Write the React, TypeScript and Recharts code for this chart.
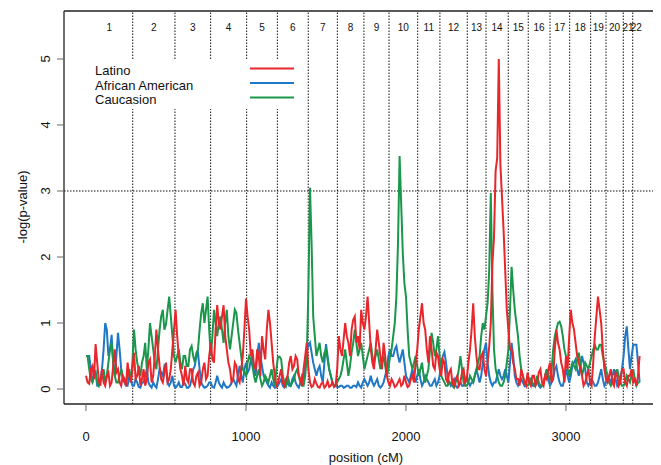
import React from 'react';
import { LineChart, Line, XAxis, YAxis, ReferenceLine, ReferenceArea, Legend } from 'recharts';

const STEP = 10; // cM between successive scan points

const latino = [
  0.2, 0.1, 0.08, 0.3, 0.35, 0.15, 0.68, 0.4, 0.12, 0.05, 0.3, 0.1, 0.05, 0.2, 0.25, 0.05, 0.1, 0.35, 0.6, 0.25,
  0.3, 0.1, 0.05, 0.2, 0.15, 0.05, 0.4, 0.2, 0.1, 0.3, 0.55, 0.15, 0.2, 0.35, 0.05, 0.15, 0.3, 0.05, 0.15, 0.4,
  0.45, 0.1, 0.2, 0.5, 0.9, 0.6, 0.35, 0.15, 0.1, 0.25, 0.4, 0.1, 0.15, 0.3, 0.6, 0.9, 1.2, 0.8, 0.5, 0.3,
  0.2, 0.05, 0.35, 0.15, 0.1, 0.3, 0.3, 0.1, 0.05, 0.2, 0.25, 0.05, 0.1, 0.3, 0.4, 0.15, 0.2, 0.5, 0.7, 0.45,
  0.4, 0.9, 1.27, 1.0, 0.9, 1.1, 1.27, 0.8, 0.6, 0.4, 0.3, 0.1, 0.15, 0.4, 0.35, 0.15, 0.1, 0.3, 0.5, 0.9,
  1.37, 1.1, 0.9, 0.5, 0.6, 0.35, 0.3, 0.6, 0.5, 0.2, 0.8, 0.6, 0.45, 0.9, 1.2, 1.0, 0.7, 0.4, 0.2, 0.05,
  0.1, 0.2, 0.3, 0.1, 0.05, 0.15, 0.2, 0.4, 0.5, 0.3, 0.35, 0.5, 0.45, 0.2, 0.15, 0.05, 0.3, 0.5, 0.7, 0.3,
  0.1, 0.03, 0.05, 0.15, 0.08, 0.03, 0.02, 0.08, 0.1, 0.02, 0.05, 0.12, 0.03, 0.05, 0.1, 0.03, 0.05, 0.3, 0.8, 0.6,
  0.5, 0.75, 1.0, 0.8, 0.7, 0.5, 0.9, 1.05, 1.1, 0.7, 0.8, 0.6, 1.2, 1.0, 0.9, 1.1, 1.4, 1.0, 0.6, 0.4,
  0.3, 0.6, 0.9, 0.7, 0.5, 0.3, 0.7, 0.5, 0.2, 0.1, 0.05, 0.15, 0.1, 0.03, 0.05, 0.1, 0.15, 0.05, 0.08, 0.2,
  0.1, 0.03, 0.05, 0.15, 0.2, 0.1, 0.4, 0.6, 0.9, 1.1, 1.3, 1.0, 0.9, 0.6, 0.4, 0.8, 0.6, 0.35, 0.3, 0.55,
  0.5, 0.3, 0.2, 0.45, 0.4, 0.15, 0.1, 0.25, 0.3, 0.1, 0.05, 0.15, 0.2, 0.05, 0.1, 0.25, 0.3, 0.1, 0.15, 0.4,
  0.6, 0.9, 1.3, 0.8, 0.5, 0.3, 0.3, 0.5, 0.55, 0.3, 0.2, 0.4, 0.64, 1.0, 1.9, 2.3, 3.3, 3.5, 5.0, 3.4,
  2.9, 2.4, 1.8, 1.2, 0.9, 0.6, 0.6, 0.4, 0.3, 0.15, 0.15, 0.05, 0.3, 0.2, 0.1, 0.05, 0.25, 0.1, 0.05, 0.2,
  0.2, 0.05, 0.1, 0.25, 0.3, 0.1, 0.05, 0.2, 0.15, 0.3, 0.4, 0.1, 0.2, 0.6, 0.9, 0.7, 0.6, 0.4, 0.3, 0.1,
  0.5, 0.3, 0.8, 1.2, 1.0, 0.9, 0.7, 0.5, 0.4, 0.3, 0.2, 0.05, 0.1, 0.2, 0.3, 0.1, 0.05, 0.4, 0.8, 1.1,
  1.4, 1.2, 1.0, 0.6, 0.3, 0.15, 0.1, 0.2, 0.3, 0.1, 0.05, 0.25, 0.2, 0.05, 0.1, 0.3, 0.3, 0.1, 0.05, 0.2,
  0.2, 0.3, 0.1, 0.15, 0.05, 0.2, 0.5,
];

const africanAmerican = [
  0.5, 0.5, 0.5, 0.3, 0.1, 0.2, 0.25, 0.05, 0.05, 0.15, 0.3, 0.6, 1.0, 0.9, 0.5, 0.6, 0.82, 0.4, 0.2, 0.5,
  0.85, 0.6, 0.3, 0.15, 0.1, 0.05, 0.05, 0.2, 0.15, 0.05, 0.05, 0.15, 0.1, 0.03, 0.02, 0.1, 0.1, 0.2, 0.3, 0.1,
  0.05, 0.02, 0.1, 0.05, 0.02, 0.15, 0.3, 0.25, 0.2, 0.35, 0.3, 0.1, 0.05, 0.1, 0.2, 0.05, 0.02, 0.05, 0.1, 0.03,
  0.03, 0.1, 0.08, 0.02, 0.02, 0.05, 0.15, 0.3, 0.35, 0.5, 0.55, 0.3, 0.1, 0.05, 0.02, 0.03, 0.05, 0.1, 0.1, 0.03,
  0.02, 0.1, 0.2, 0.1, 0.05, 0.02, 0.1, 0.05, 0.02, 0.03, 0.05, 0.1, 0.15, 0.1, 0.05, 0.2, 0.35, 0.2, 0.1, 0.3,
  0.4, 0.25, 0.3, 0.45, 0.5, 0.3, 0.2, 0.5, 0.7, 0.5, 0.35, 0.2, 0.15, 0.1, 0.05, 0.02, 0.1, 0.05, 0.02, 0.03,
  0.05, 0.1, 0.15, 0.05, 0.02, 0.05, 0.1, 0.05, 0.05, 0.15, 0.2, 0.1, 0.05, 0.02, 0.1, 0.2, 0.15, 0.4, 0.6, 0.65,
  0.7, 0.55, 0.4, 0.3, 0.2, 0.3, 0.35, 0.2, 0.1, 0.4, 0.68, 0.5, 0.3, 0.2, 0.1, 0.05, 0.05, 0.03, 0.03, 0.05,
  0.05, 0.02, 0.03, 0.05, 0.05, 0.02, 0.02, 0.05, 0.05, 0.03, 0.1, 0.05, 0.02, 0.1, 0.15, 0.1, 0.05, 0.1, 0.2, 0.1,
  0.05, 0.1, 0.15, 0.05, 0.02, 0.05, 0.1, 0.2, 0.3, 0.5, 0.6, 0.5, 0.5, 0.6, 0.65, 0.5, 0.4, 0.5, 0.6, 0.4,
  0.2, 0.15, 0.1, 0.2, 0.3, 0.2, 0.1, 0.2, 0.3, 0.15, 0.05, 0.1, 0.2, 0.15, 0.1, 0.05, 0.05, 0.1, 0.15, 0.05,
  0.1, 0.2, 0.4, 0.5, 0.56, 0.4, 0.2, 0.1, 0.05, 0.1, 0.15, 0.05, 0.02, 0.05, 0.1, 0.05, 0.05, 0.1, 0.2, 0.1,
  0.05, 0.1, 0.1, 0.2, 0.3, 0.2, 0.1, 0.2, 0.4, 0.6, 0.7, 0.4, 0.2, 0.1, 0.05, 0.1, 0.1, 0.2, 0.3, 0.2,
  0.15, 0.2, 0.3, 0.2, 0.1, 0.4, 0.7, 0.5, 0.2, 0.1, 0.05, 0.1, 0.15, 0.1, 0.05, 0.1, 0.2, 0.15, 0.1, 0.05,
  0.05, 0.1, 0.15, 0.05, 0.02, 0.05, 0.1, 0.2, 0.3, 0.15, 0.05, 0.1, 0.15, 0.3, 0.35, 0.2, 0.1, 0.05, 0.05, 0.15,
  0.3, 0.2, 0.1, 0.2, 0.35, 0.4, 0.45, 0.3, 0.2, 0.35, 0.5, 0.4, 0.3, 0.1, 0.05, 0.1, 0.15, 0.1, 0.05, 0.05,
  0.1, 0.2, 0.3, 0.15, 0.05, 0.1, 0.2, 0.15, 0.1, 0.2, 0.3, 0.15, 0.05, 0.1, 0.15, 0.3, 0.5, 0.8, 0.95, 0.6,
  0.3, 0.5, 0.67, 0.67, 0.67, 0.4, 0.1,
];

const caucasion = [
  0.5, 0.5, 0.3, 0.15, 0.1, 0.2, 0.25, 0.1, 0.05, 0.15, 0.2, 0.3, 0.1, 0.2, 0.4, 0.6, 0.7, 0.4, 0.2, 0.1,
  0.1, 0.2, 0.3, 0.2, 0.15, 0.1, 0.2, 0.3, 0.1, 0.4, 0.9, 0.6, 0.4, 0.3, 0.2, 0.4, 0.5, 0.7, 0.3, 0.6,
  1.0, 0.8, 0.6, 0.4, 0.3, 0.6, 0.9, 1.1, 1.2, 0.9, 0.98, 1.2, 1.4, 1.1, 0.8, 0.5, 0.4, 0.5, 0.6, 0.4,
  0.3, 0.5, 0.5, 0.35, 0.35, 0.6, 0.65, 0.5, 0.4, 0.55, 0.6, 0.9, 1.15, 1.3, 1.0, 1.2, 1.4, 0.9, 0.5, 0.8,
  1.2, 1.0, 0.8, 1.0, 1.1, 0.9, 0.7, 1.0, 1.2, 0.8, 0.6, 0.8, 1.0, 1.2, 1.15, 0.9, 0.7, 0.5, 0.3, 0.25,
  0.2, 0.4, 0.5, 0.45, 0.35, 0.2, 0.1, 0.2, 0.3, 0.15, 0.05, 0.1, 0.2, 0.15, 0.1, 0.2, 0.3, 0.15, 0.05, 0.3,
  0.49, 0.49, 0.45, 0.2, 0.1, 0.05, 0.2, 0.1, 0.05, 0.1, 0.15, 0.25, 0.3, 0.2, 0.1, 0.05, 0.05, 0.2, 0.5, 1.5,
  3.05, 2.2, 1.1, 0.8, 0.5, 0.6, 0.7, 0.5, 0.4, 0.55, 0.6, 0.45, 0.3, 0.2, 0.1, 0.05, 0.05, 0.1, 0.15, 0.2,
  0.3, 0.45, 0.6, 0.4, 0.2, 0.35, 0.55, 0.7, 0.9, 0.7, 0.5, 0.6, 0.7, 0.5, 0.3, 0.4, 0.5, 0.6, 0.7, 0.5,
  0.4, 0.5, 0.6, 0.45, 0.3, 0.4, 0.5, 0.35, 0.2, 0.3, 0.5, 0.6, 0.8, 1.0, 1.4, 2.2, 3.53, 2.8, 2.06, 1.6,
  1.4, 0.9, 0.5, 0.4, 0.3, 0.4, 0.5, 0.35, 0.2, 0.3, 0.4, 0.2, 0.1, 0.2, 0.3, 0.6, 0.85, 0.7, 0.5, 0.6,
  0.8, 0.5, 0.2, 0.15, 0.1, 0.05, 0.05, 0.1, 0.1, 0.05, 0.02, 0.1, 0.15, 0.3, 0.5, 0.3, 0.1, 0.05, 0.05, 0.1,
  0.2, 0.15, 0.1, 0.2, 0.3, 0.4, 0.5, 0.8, 1.0, 0.9, 1.1, 1.3, 1.8, 2.97, 1.5, 0.6, 0.3, 0.2, 0.1, 0.05,
  0.05, 0.1, 0.2, 0.4, 0.6, 1.2, 1.85, 1.5, 1.2, 1.0, 0.8, 0.5, 0.3, 0.2, 0.1, 0.05, 0.05, 0.1, 0.15, 0.1,
  0.05, 0.1, 0.2, 0.1, 0.05, 0.05, 0.1, 0.2, 0.3, 0.2, 0.15, 0.3, 0.6, 0.8, 0.9, 1.0, 1.02, 0.95, 0.8, 0.6,
  0.5, 0.3, 0.2, 0.3, 0.4, 0.35, 0.3, 0.45, 0.55, 0.4, 0.2, 0.3, 0.4, 0.35, 0.3, 0.4, 0.5, 0.6, 0.67, 0.6,
  0.6, 0.67, 0.67, 0.5, 0.4, 0.3, 0.2, 0.1, 0.05, 0.1, 0.15, 0.2, 0.3, 0.2, 0.1, 0.05, 0.05, 0.1, 0.2, 0.15,
  0.1, 0.2, 0.3, 0.15, 0.05, 0.1, 0.1,
];

const chromBounds = [0, 292, 556, 779, 1004, 1196, 1389, 1571, 1737, 1894, 2073, 2212, 2383, 2500, 2639, 2764, 2900, 3023, 3154, 3250, 3358, 3417, 3462];
const chromLabels = ['1', '2', '3', '4', '5', '6', '7', '8', '9', '10', '11', '12', '13', '14', '15', '16', '17', '18', '19', '20', '21', '22'];
const xTicks = [0, 1000, 2000, 3000];
const yTicks = [0, 1, 2, 3, 4, 5];
const threshold = 3;

const seriesNames = ['Latino', 'African American', 'Caucasion'];
const seriesColors = ['#e8262b', '#1f78c6', '#1a974b'];

const data = latino.map((v, i) => ({
  pos: i * STEP,
  latino: v,
  aa: africanAmerican[i],
  cauc: caucasion[i],
}));

const FONT = '"Liberation Sans", Arial, Helvetica, sans-serif';

const XTick = (props: any) => {
  const { x, y, payload } = props;
  return (
    <text x={x} y={y + 28} textAnchor="middle" fontSize={13} fill="#111" fontFamily={FONT}>
      {payload.value}
    </text>
  );
};

const YTick = (props: any) => {
  const { x, y, payload } = props;
  const bx = x - 4.5;
  return (
    <text x={bx} y={y} textAnchor="middle" fontSize={13} fill="#111" fontFamily={FONT} transform={`rotate(-90 ${bx} ${y})`}>
      {payload.value}
    </text>
  );
};

const renderLegend = () => (
  <div style={{ background: '#fff', width: 214, height: 50 }}>
    <svg width={214} height={50}>
      {seriesNames.map((n, i) => (
        <g key={n}>
          <text x={9} y={16 + i * 14.5} fontSize={13} fill="#111" fontFamily={FONT}>{n}</text>
          <line x1={164} x2={208} y1={9.5 + i * 14.5} y2={9.5 + i * 14.5} stroke={seriesColors[i]} strokeWidth={2} />
        </g>
      ))}
    </svg>
  </div>
);

export default function App() {
  return (
    <div style={{ width: 653, height: 457, overflow: 'hidden', fontFamily: FONT }}>
      <LineChart width={660} height={457} data={data} margin={{ top: 3, right: 0, bottom: 0, left: 0 }}>
        <XAxis
          dataKey="pos"
          type="number"
          domain={[-137.5, 3637.5]}
          allowDataOverflow
          ticks={xTicks}
          height={61}
          tickSize={7}
          tick={XTick}
          axisLine={{ stroke: '#222', strokeWidth: 1.3 }}
          tickLine={{ stroke: '#666' }}
          label={{
            content: () => (
              <text x={358} y={454} textAnchor="middle" fontSize={13} fill="#111" fontFamily={FONT}>position (cM)</text>
            ),
          }}
        />
        <YAxis
          type="number"
          domain={[-0.227, 5.727]}
          allowDataOverflow
          ticks={yTicks}
          width={56}
          tickSize={7}
          tick={YTick}
          axisLine={{ stroke: '#222', strokeWidth: 1.3 }}
          tickLine={{ stroke: '#666' }}
          label={{
            content: () => (
              <text x={19} y={199} textAnchor="middle" fontSize={13} fill="#111" fontFamily={FONT} transform="rotate(-90 19 199)">-log(p-value)</text>
            ),
          }}
        />
        <ReferenceLine y={5.727} stroke="#222" strokeWidth={1.3} ifOverflow="extendDomain" />
        {chromLabels.map((lab, i) => (
          <ReferenceArea
            key={'a' + lab}
            x1={chromBounds[i]}
            x2={chromBounds[i + 1]}
            fill="none"
            fillOpacity={0}
            stroke="none"
            label={{ value: lab, position: 'insideTop', offset: 12.5, fontSize: 10, fill: '#111', fontFamily: FONT }}
          />
        ))}
        {chromBounds.slice(1, -1).map((b) => (
          <ReferenceLine key={'b' + b} x={b} stroke="#111" strokeWidth={1} strokeDasharray="1.5 1.5" />
        ))}
        <ReferenceLine y={threshold} stroke="#111" strokeWidth={1} strokeDasharray="1.5 1.5" />
        <Line dataKey="aa" name={seriesNames[1]} stroke={seriesColors[1]} strokeWidth={2} dot={false} isAnimationActive={false} />
        <Line dataKey="cauc" name={seriesNames[2]} stroke={seriesColors[2]} strokeWidth={2} dot={false} isAnimationActive={false} />
        <Line dataKey="latino" name={seriesNames[0]} stroke={seriesColors[0]} strokeWidth={2} dot={false} isAnimationActive={false} />
        <Legend
          layout="vertical"
          align="center"
          verticalAlign="middle"
          wrapperStyle={{ position: 'absolute', left: 78, top: 51, width: 214, height: 50 }}
          content={renderLegend}
        />
      </LineChart>
    </div>
  );
}
